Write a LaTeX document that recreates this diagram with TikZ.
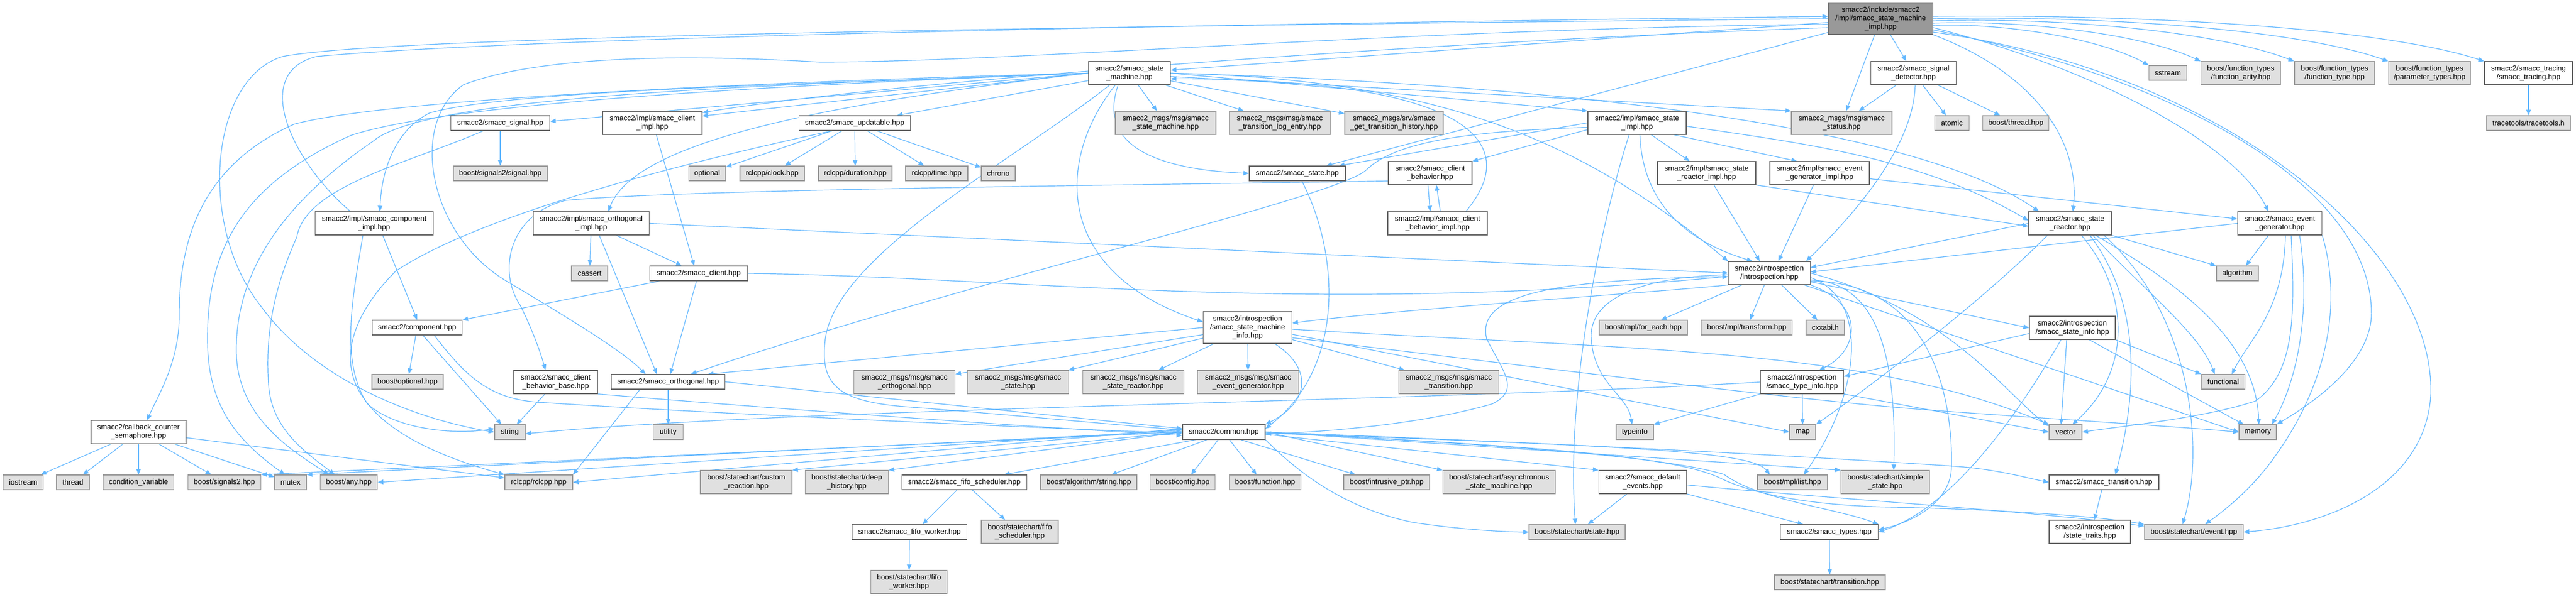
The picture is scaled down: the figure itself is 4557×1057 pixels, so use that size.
\documentclass[tikz,border=0pt]{standalone}
\usepackage{fontspec}
\setmainfont{Liberation Sans}
\usetikzlibrary{arrows.meta}
\definecolor{eb}{HTML}{63B8FF}
\definecolor{bord}{HTML}{666666}
\definecolor{gbord}{HTML}{999999}
\definecolor{gfill}{HTML}{E0E0E0}
\definecolor{tfill}{HTML}{999999}
\pgfdeclarelayer{bg}
\pgfsetlayers{bg,main}
\begin{document}
\begin{tikzpicture}[x=1pt,y=1pt,
  nb/.style={draw, line width=1.2pt, align=center, inner sep=1pt, font={\fontsize{13}{15}\selectfont}},
  wb/.style={nb, fill=white, draw=bord},
  gb/.style={nb, fill=gfill, draw=gbord},
  tb/.style={nb, fill=tfill, draw=bord},
  ha/.style={minimum height=26pt},
  hb/.style={minimum height=41pt},
  hc/.style={minimum height=56pt},
  edg/.style={draw=eb, line width=1.2pt, -{Triangle[length=10pt,width=8pt]}},
]
\useasboundingbox (0,0) rectangle (4557,-1057);
% ---------- nodes ----------
\node[tb,hc,minimum width=185pt] (SMI) at (3327,-33) {smacc2/include/smacc2\\/impl/smacc\_state\_machine\\\_impl.hpp};
\node[wb,hb,minimum width=145pt] (sm) at (1998,-129.5) {smacc2/smacc\_state\\\_machine.hpp};
\node[wb,hb,minimum width=151pt] (sigdet) at (3385,-129.5) {smacc2/smacc\_signal\\\_detector.hpp};
\node[gb,ha,minimum width=67pt] (sstream) at (3835,-129) {sstream};
\node[gb,hb,minimum width=141pt] (farity) at (3964,-129.5) {boost/function\_types\\/function\_arity.hpp};
\node[gb,hb,minimum width=142pt] (ftype) at (4130,-129.5) {boost/function\_types\\/function\_type.hpp};
\node[gb,hb,minimum width=145pt] (ptypes) at (4298,-129.5) {boost/function\_types\\/parameter\_types.hpp};
\node[wb,hb,minimum width=156pt] (tracing) at (4473,-129.5) {smacc2/smacc\_tracing\\/smacc\_tracing.hpp};

\node[wb,ha,minimum width=175pt] (signal) at (885,-218) {smacc2/smacc\_signal.hpp};
\node[wb,hb,minimum width=176pt] (clientimpl) at (1154,-217.5) {smacc2/impl/smacc\_client\\\_impl.hpp};
\node[wb,ha,minimum width=197pt] (updatable) at (1512,-218) {smacc2/smacc\_updatable.hpp};
\node[gb,hb,minimum width=178pt] (msgsm) at (2062,-217.5) {smacc2\_msgs/msg/smacc\\\_state\_machine.hpp};
\node[gb,hb,minimum width=179pt] (msgtle) at (2264,-217.5) {smacc2\_msgs/msg/smacc\\\_transition\_log\_entry.hpp};
\node[gb,hb,minimum width=174pt] (srvgth) at (2466,-217.5) {smacc2\_msgs/srv/smacc\\\_get\_transition\_history.hpp};
\node[wb,hb,minimum width=174pt] (stateimpl) at (2896,-217.5) {smacc2/impl/smacc\_state\\\_impl.hpp};
\node[gb,hb,minimum width=178pt] (msgstatus) at (3258,-217.5) {smacc2\_msgs/msg/smacc\\\_status.hpp};
\node[gb,ha,minimum width=61pt] (atomic) at (3453,-218) {atomic};
\node[gb,ha,minimum width=117pt] (bthread) at (3566,-218) {boost/thread.hpp};
\node[gb,ha,minimum width=149pt] (tracetools) at (4473,-218) {tracetools/tracetools.h};

\node[gb,ha,minimum width=166pt] (sigsignal) at (885,-307) {boost/signals2/signal.hpp};
\node[gb,ha,minimum width=65pt] (optional) at (1251,-307) {optional};
\node[gb,ha,minimum width=114pt] (clock) at (1366,-307) {rclcpp/clock.hpp};
\node[gb,ha,minimum width=130pt] (duration) at (1513,-307) {rclcpp/duration.hpp};
\node[gb,ha,minimum width=110pt] (rtime) at (1657,-307) {rclcpp/time.hpp};
\node[gb,ha,minimum width=60pt] (chrono) at (1766,-307) {chrono};
\node[wb,ha,minimum width=170pt] (state) at (2295,-307) {smacc2/smacc\_state.hpp};
\node[wb,hb,minimum width=148pt] (cb) at (2530,-306.5) {smacc2/smacc\_client\\\_behavior.hpp};
\node[wb,hb,minimum width=174pt] (srimpl) at (3019,-306.5) {smacc2/impl/smacc\_state\\\_reactor\_impl.hpp};
\node[wb,hb,minimum width=176pt] (egimpl) at (3219,-306.5) {smacc2/impl/smacc\_event\\\_generator\_impl.hpp};

\node[wb,hb,minimum width=209pt] (compimpl) at (662,-395.5) {smacc2/impl/smacc\_component\\\_impl.hpp};
\node[wb,hb,minimum width=205pt] (orthimpl) at (1046,-395.5) {smacc2/impl/smacc\_orthogonal\\\_impl.hpp};
\node[wb,hb,minimum width=176pt] (cbimpl) at (2543,-395.5) {smacc2/impl/smacc\_client\\\_behavior\_impl.hpp};
\node[wb,hb,minimum width=146pt] (sr) at (3662,-395.5) {smacc2/smacc\_state\\\_reactor.hpp};
\node[wb,hb,minimum width=149pt] (eg) at (4033,-395.5) {smacc2/smacc\_event\\\_generator.hpp};

\node[gb,ha,minimum width=64pt] (cassert) at (1043,-484) {cassert};
\node[wb,ha,minimum width=173pt] (client) at (1236,-484) {smacc2/smacc\_client.hpp};
\node[wb,hb,minimum width=145pt] (intro) at (3130,-483.5) {smacc2/introspection\\/introspection.hpp};
\node[gb,ha,minimum width=74pt] (algorithm) at (3958,-484) {algorithm};

\node[wb,ha,minimum width=159pt] (comp) at (738,-580) {smacc2/component.hpp};
\node[wb,hc,minimum width=157pt] (smiinfo) at (2207,-580) {smacc2/introspection\\/smacc\_state\_machine\\\_info.hpp};
\node[gb,ha,minimum width=156pt] (foreach) at (2907,-580) {boost/mpl/for\_each.hpp};
\node[gb,ha,minimum width=161pt] (transform) at (3090,-580) {boost/mpl/transform.hpp};
\node[gb,ha,minimum width=68pt] (cxxabi) at (3229,-580) {cxxabi.h};
\node[wb,hb,minimum width=152pt] (stinfo) at (3666,-580.5) {smacc2/introspection\\/smacc\_state\_info.hpp};

\node[gb,ha,minimum width=126pt] (boptional) at (721,-676) {boost/optional.hpp};
\node[wb,hb,minimum width=149pt] (cbbase) at (983,-676.5) {smacc2/smacc\_client\\\_behavior\_base.hpp};
\node[wb,ha,minimum width=201pt] (orth) at (1182,-676) {smacc2/smacc\_orthogonal.hpp};
\node[gb,hb,minimum width=179pt] (msgorth) at (1600,-676.5) {smacc2\_msgs/msg/smacc\\\_orthogonal.hpp};
\node[gb,hb,minimum width=179pt] (msgstate) at (1801,-676.5) {smacc2\_msgs/msg/smacc\\\_state.hpp};
\node[gb,hb,minimum width=179pt] (msgsr) at (2005,-676.5) {smacc2\_msgs/msg/smacc\\\_state\_reactor.hpp};
\node[gb,hb,minimum width=179pt] (msgeg) at (2208,-676.5) {smacc2\_msgs/msg/smacc\\\_event\_generator.hpp};
\node[gb,hb,minimum width=177pt] (msgtr) at (2563,-676.5) {smacc2\_msgs/msg/smacc\\\_transition.hpp};
\node[wb,hb,minimum width=147pt] (typeinfoh) at (3188,-676.5) {smacc2/introspection\\/smacc\_type\_info.hpp};
\node[gb,ha,minimum width=77pt] (functional) at (3933,-676) {functional};

\node[wb,hb,minimum width=168pt] (sema) at (245,-765) {smacc2/callback\_counter\\\_semaphore.hpp};
\node[gb,ha,minimum width=54pt] (string) at (902,-765) {string};
\node[gb,ha,minimum width=53pt] (utility) at (1182,-765) {utility};
\node[wb,ha,minimum width=146pt] (common) at (2165,-765) {smacc2/common.hpp};
\node[gb,ha,minimum width=66pt] (typeinfo) at (2892,-765) {typeinfo};
\node[gb,ha,minimum width=46pt] (map) at (3189,-765) {map};
\node[gb,ha,minimum width=58pt] (vector) at (3654,-765) {vector};
\node[gb,ha,minimum width=66pt] (memory) at (3994,-765) {memory};

\node[gb,ha,minimum width=71pt] (iostream) at (41,-854) {iostream};
\node[gb,ha,minimum width=58pt] (thread) at (129,-854) {thread};
\node[gb,ha,minimum width=125pt] (condvar) at (245,-854) {condition\_variable};
\node[gb,ha,minimum width=129pt] (signals2) at (397,-854) {boost/signals2.hpp};
\node[gb,ha,minimum width=56pt] (mutex) at (514,-854) {mutex};
\node[gb,ha,minimum width=101pt] (bany) at (617,-854) {boost/any.hpp};
\node[gb,ha,minimum width=120pt] (rclcpp) at (953,-854) {rclcpp/rclcpp.hpp};
\node[gb,hb,minimum width=162pt] (custreact) at (1320,-853.5) {boost/statechart/custom\\\_reaction.hpp};
\node[gb,hb,minimum width=147pt] (deephist) at (1498,-853.5) {boost/statechart/deep\\\_history.hpp};
\node[wb,ha,minimum width=221pt] (fifosched) at (1706,-854) {smacc2/smacc\_fifo\_scheduler.hpp};
\node[gb,ha,minimum width=170pt] (algstring) at (1926,-854) {boost/algorithm/string.hpp};
\node[gb,ha,minimum width=115pt] (config) at (2092,-854) {boost/config.hpp};
\node[gb,ha,minimum width=127pt] (function) at (2238,-854) {boost/function.hpp};
\node[gb,ha,minimum width=152pt] (intrusive) at (2453,-854) {boost/intrusive\_ptr.hpp};
\node[gb,hb,minimum width=199pt] (async) at (2652,-853.5) {boost/statechart/asynchronous\\\_state\_machine.hpp};
\node[wb,hb,minimum width=155pt] (defevents) at (2906,-853.5) {smacc2/smacc\_default\\\_events.hpp};
\node[gb,ha,minimum width=124pt] (mpllist) at (3171,-854) {boost/mpl/list.hpp};
\node[gb,hb,minimum width=157pt] (simplestate) at (3335,-853.5) {boost/statechart/simple\\\_state.hpp};
\node[wb,ha,minimum width=194pt] (transition) at (3722,-854) {smacc2/smacc\_transition.hpp};

\node[wb,ha,minimum width=203pt] (fifoworker) at (1609,-942) {smacc2/smacc\_fifo\_worker.hpp};
\node[gb,hb,minimum width=136pt] (bfifosched) at (1804,-941.5) {boost/statechart/fifo\\\_scheduler.hpp};
\node[gb,ha,minimum width=170pt] (bstate) at (2790,-942) {boost/statechart/state.hpp};
\node[wb,ha,minimum width=173pt] (types) at (3236,-942) {smacc2/smacc\_types.hpp};
\node[wb,hb,minimum width=144pt] (straits) at (3697,-941.5) {smacc2/introspection\\/state\_traits.hpp};
\node[gb,ha,minimum width=175pt] (event) at (3881,-942) {boost/statechart/event.hpp};

\node[gb,hb,minimum width=135pt] (bfifoworker) at (1608,-1030.5) {boost/statechart/fifo\\\_worker.hpp};
\node[gb,ha,minimum width=196pt] (btransition) at (3237,-1031) {boost/statechart/transition.hpp};

% ---------- edges ----------
\begin{pgfonlayer}{bg}
\fill[white] (0,0) rectangle (4557,-1057);
% SMI
\draw[edg] (SMI) -- (sm);
\draw[edg] (SMI) -- (sigdet);
\draw[edg] (SMI) -- (msgstatus);
\draw[edg] ([yshift=-12pt]SMI.east) .. controls (3550,-40) and (3720,-70) .. (sstream.north west);
\draw[edg] ([yshift=-8pt]SMI.east) .. controls (3580,-35) and (3790,-60) .. (farity.north west);
\draw[edg] ([yshift=-4pt]SMI.east) .. controls (3640,-30) and (3920,-55) .. (ftype.north west);
\draw[edg] (SMI.east) .. controls (3700,-27) and (4060,-50) .. (ptypes.north west);
\draw[edg] ([yshift=4pt]SMI.east) .. controls (3750,-25) and (4200,-45) .. (tracing.north west);
\draw[edg] (SMI.south east) .. controls (3600,-130) and (3680,-250) .. ([xshift=5pt]sr.north);
\draw[edg] ([yshift=-16pt]SMI.east) .. controls (3700,-120) and (3950,-250) .. ([xshift=-20pt]eg.north);
\draw[edg] (SMI) -- (state);
\draw[edg] ([yshift=-20pt]SMI.east) .. controls (3900,-150) and (4200,-350) .. (4195,-560) .. controls (4190,-650) and (4080,-720) .. (memory.north east);
\draw[edg] ([yshift=-24pt]SMI.east) .. controls (3950,-130) and (4310,-450) .. (4300,-700) .. controls (4290,-860) and (4120,-930) .. (event.east);
\draw[edg] (SMI.west) .. controls (2000,-46) and (700,-62) .. (500,-100) .. controls (370,-140) and (350,-400) .. (460,-540) .. controls (560,-680) and (750,-745) .. (string.west);
\draw[edg] ([yshift=-10pt]SMI.west) .. controls (2500,-50) and (1800,-110) .. (1450,-110) .. controls (1200,-95) and (950,-100) .. (820,-150) .. controls (720,-220) and (760,-420) .. (900,-500) .. controls (1000,-560) and (1100,-620) .. ([xshift=-40pt]orth.north);
\draw[edg] ([yshift=-16pt]SMI.west) .. controls (2600,-70) and (1600,-140) .. ([yshift=-3pt]clientimpl.north east);
\draw[edg] ([xshift=-42pt]compimpl.north) .. controls (520,-290) and (440,-130) .. (560,-100) .. controls (1000,-60) and (2500,-38) .. ([yshift=4pt]SMI.west);
% tracing
\draw[edg] (tracing) -- (tracetools);
% sm
\draw[edg] (sm) -- (msgsm);
\draw[edg] (sm) -- (msgtle);
\draw[edg] (sm) -- (srvgth);
\draw[edg] ([xshift=-20pt]sm.south) .. controls (1940,-260) and (2050,-300) .. (state.west);
\draw[edg] (sm) -- (updatable);
\draw[edg] (sm.west) -- ([yshift=-9pt]clientimpl.north east);
\draw[edg] (sm.west) -- ([yshift=3pt]signal.east);
\draw[edg] (sm.west) .. controls (1400,-150) and (900,-160) .. (760,-200) .. controls (700,-230) and (675,-300) .. ([xshift=10pt]compimpl.north);
\draw[edg] (sm.west) .. controls (1400,-190) and (1120,-260) .. ([xshift=30pt]orthimpl.north);
\draw[edg] (sm.west) .. controls (1500,-140) and (700,-170) .. (520,-220) .. controls (340,-300) and (317,-450) .. (317,-560) .. controls (317,-640) and (280,-700) .. ([xshift=15pt]sema.north);
\draw[edg] (sm.west) .. controls (1400,-150) and (800,-180) .. (620,-240) .. controls (420,-330) and (367,-450) .. (367,-600) .. controls (367,-720) and (420,-780) .. ([xshift=-10pt]mutex.north);
\draw[edg] (sm.west) .. controls (1400,-150) and (760,-165) .. (660,-250) .. controls (500,-360) and (418,-480) .. (418,-620) .. controls (418,-740) and (520,-800) .. ([xshift=-35pt]bany.north);
\draw[edg] ([xshift=-25pt]sm.south) .. controls (1870,-280) and (1860,-480) .. ([yshift=10pt]smiinfo.west);
\draw[edg] ([xshift=-35pt]sm.south) .. controls (1800,-280) and (1480,-450) .. (1460,-600) .. controls (1450,-680) and (1480,-710) .. (1600,-720) .. controls (1800,-735) and (2000,-755) .. ([yshift=4pt]common.west);
\draw[edg] (sm.east) .. controls (2550,-140) and (2800,-250) .. (intro.north west);
\draw[edg] (sm.east) -- (stateimpl.north west);
\draw[edg] ([yshift=-6pt]sm.east) -- (msgstatus.north west);
\draw[edg] (sm.east) .. controls (2800,-150) and (3400,-230) .. ([xshift=-55pt]sr.north);
\draw[edg] ([xshift=50pt]cbimpl.north) .. controls (2690,-260) and (2620,-140) .. ([yshift=-10pt]sm.east);
% signal / updatable
\draw[edg] (signal) -- (sigsignal);
\draw[edg] ([xshift=-30pt]signal.south) .. controls (720,-290) and (540,-330) .. (525,-420) .. controls (480,-520) and (470,-600) .. (475,-680) .. controls (480,-760) and (540,-800) .. ([xshift=-25pt]bany.north);
\draw[edg] (updatable) -- (optional);
\draw[edg] (updatable) -- (clock);
\draw[edg] (updatable) -- (duration);
\draw[edg] (updatable) -- (rtime);
\draw[edg] (updatable) -- (chrono);
\draw[edg] ([xshift=-40pt]updatable.south) .. controls (1200,-290) and (850,-380) .. (700,-480) .. controls (620,-560) and (600,-640) .. (640,-700) .. controls (690,-780) and (820,-820) .. (rclcpp.north west);
% impl files
\draw[edg] ([xshift=7pt]clientimpl.south) -- ([xshift=-8pt]client.north);
\draw[edg] ([xshift=15pt]compimpl.south) -- (comp.north);
\draw[edg] ([xshift=-20pt]compimpl.south) .. controls (625,-520) and (600,-640) .. (650,-715) .. controls (700,-760) and (800,-770) .. ([yshift=6pt]string.west);
\draw[edg] (orthimpl) -- (cassert);
\draw[edg] ([xshift=44pt]orthimpl.south) -- ([xshift=-30pt]client.north);
\draw[edg] ([xshift=14pt]orthimpl.south) -- ([xshift=-20pt]orth.north);
\draw[edg] (orthimpl.east) -- (intro.west);
% client
\draw[edg] (client) -- (orth);
\draw[edg] (client.east) .. controls (1800,-490) and (2300,-560) .. ([yshift=-6pt]intro.west);
\draw[edg] (client) -- (comp.north east);
% comp, cbbase, orth
\draw[edg] (comp) -- (boptional);
\draw[edg] ([xshift=10pt]comp.south) -- ([xshift=-15pt]string.north);
\draw[edg] ([xshift=30pt]comp.south) .. controls (820,-660) and (860,-705) .. (950,-712) .. controls (1300,-735) and (1900,-760) .. ([yshift=-2pt]common.west);
\draw[edg] ([xshift=-19pt]cbbase.south) -- ([xshift=12pt]string.north);
\draw[edg] (cbbase.south east) .. controls (1300,-718) and (1800,-755) .. ([yshift=-6pt]common.west);
\draw[edg] (orth) -- (utility);
\draw[edg] (orth.east) -- ([yshift=6pt]common.west);
\draw[edg] ([xshift=-50pt]orth.south) -- (rclcpp.north east);
% semaphore
\draw[edg] (sema) -- (iostream);
\draw[edg] (sema) -- (thread);
\draw[edg] (sema) -- (condvar);
\draw[edg] (sema) -- (signals2);
\draw[edg] (sema) -- (mutex);
\draw[edg] ([yshift=-10pt]sema.east) -- ([yshift=8pt]rclcpp.west);
% common
\draw[edg] (common.west) -- (custreact.north east);
\draw[edg] (common.west) -- (deephist.north east);
\draw[edg] ([xshift=-50pt]common.south) -- ([xshift=70pt]fifosched.north);
\draw[edg] ([xshift=-30pt]common.south) -- ([xshift=40pt]algstring.north);
\draw[edg] ([xshift=-10pt]common.south) -- ([xshift=15pt]config.north);
\draw[edg] ([xshift=10pt]common.south) -- ([xshift=-15pt]function.north);
\draw[edg] ([xshift=30pt]common.south) -- ([xshift=-55pt]intrusive.north);
\draw[edg] (common.east) -- (async.north west);
\draw[edg] ([yshift=-4pt]common.east) -- (defevents.north west);
\draw[edg] ([yshift=-2pt]common.east) .. controls (2900,-790) and (3100,-800) .. ([xshift=-40pt]mpllist.north);
\draw[edg] (common.east) -- (simplestate.north west);
\draw[edg] (common.south east) .. controls (2300,-840) and (2380,-900) .. (2500,-925) .. controls (2600,-940) and (2680,-942) .. (bstate.west);
\draw[edg] (common.east) .. controls (2700,-790) and (2950,-810) .. (3050,-840) .. controls (3110,-885) and (3250,-900) .. (types.north east);
\draw[edg] (common.east) .. controls (2700,-790) and (2950,-805) .. (3040,-845) .. controls (3100,-875) and (3200,-895) .. (3350,-898) .. controls (3550,-902) and (3720,-915) .. (event.north west);
\draw[edg] (common.east) .. controls (2900,-790) and (3300,-815) .. (3450,-825) .. controls (3530,-830) and (3580,-845) .. (transition.west);
\draw[edg] ([yshift=6pt]common.west) -- (rclcpp.east);
\draw[edg] ([yshift=4pt]common.west) -- (bany.east);
\draw[edg] ([yshift=2pt]common.west) -- (mutex.north east);
\draw[edg] (common.west) -- (signals2.north east);
% default events, fifo, types, transition
\draw[edg] ([xshift=-28pt]defevents.south) -- ([xshift=19pt]bstate.north);
\draw[edg] (defevents.south east) -- ([xshift=-46pt]types.north);
\draw[edg] ([yshift=-5pt]defevents.east) .. controls (3200,-880) and (3600,-905) .. ([yshift=-3pt]event.north west);
\draw[edg] ([xshift=-13pt]fifosched.south) -- ([xshift=23pt]fifoworker.north);
\draw[edg] ([xshift=14pt]fifosched.south) -- ([xshift=-26pt]bfifosched.north);
\draw[edg] (fifoworker) -- (bfifoworker);
\draw[edg] (types) -- (btransition);
\draw[edg] ([xshift=-4pt]transition.south) -- ([xshift=8pt]straits.north);
% state machine info
\draw[edg] (smiinfo) -- (msgorth);
\draw[edg] (smiinfo) -- (msgstate);
\draw[edg] (smiinfo) -- (msgsr);
\draw[edg] (smiinfo) -- (msgeg);
\draw[edg] (smiinfo) -- (msgtr);
\draw[edg] ([xshift=48pt]smiinfo.south) .. controls (2320,-650) and (2320,-710) .. (common.north east);
\draw[edg] (smiinfo.west) -- ([xshift=70pt]orth.north);
\draw[edg] ([yshift=-12pt]smiinfo.east) -- (map.west);
\draw[edg] ([yshift=-3pt]smiinfo.east) .. controls (2900,-620) and (3300,-615) .. (vector.north west);
\draw[edg] ([yshift=-18pt]smiinfo.east) .. controls (2800,-660) and (3200,-710) .. (3400,-725) .. controls (3600,-740) and (3850,-755) .. (memory.west);
% state info / type info
\draw[edg] ([yshift=-10pt]stinfo.west) -- ([yshift=10pt]typeinfoh.east);
\draw[edg] ([xshift=-20pt]stinfo.south) .. controls (3560,-750) and (3450,-900) .. (types.east);
\draw[edg] ([xshift=-10pt]stinfo.south) -- ([xshift=-8pt]vector.north);
\draw[edg] ([xshift=30pt]stinfo.south) -- ([xshift=-25pt]memory.north);
\draw[edg] (stinfo.south east) -- (functional.north west);
\draw[edg] (typeinfoh.south west) -- (typeinfo.north east);
\draw[edg] (typeinfoh) -- (map);
\draw[edg] (typeinfoh.south east) -- (vector.west);
\draw[edg] (typeinfoh.west) .. controls (2500,-712) and (1400,-722) .. ([yshift=-3pt]string.east);
% introspection
\draw[edg] (intro) -- (foreach);
\draw[edg] (intro) -- (transform);
\draw[edg] (intro) -- (cxxabi);
\draw[edg] (intro.south west) .. controls (2900,-520) and (2500,-545) .. ([yshift=8pt]smiinfo.east);
\draw[edg] (intro) -- (stinfo.west);
\draw[edg] (intro.south east) .. controls (3300,-540) and (3290,-620) .. ([xshift=30pt]typeinfoh.north);
\draw[edg] ([yshift=-6pt]intro.west) .. controls (2750,-495) and (2610,-520) .. (2630,-600) .. controls (2660,-660) and (2690,-690) .. (2640,-715) .. controls (2520,-750) and (2350,-765) .. ([yshift=-3pt]common.east);
\draw[edg] ([yshift=-3pt]intro.west) .. controls (2900,-490) and (2810,-530) .. (2815,-600) .. controls (2820,-680) and (2880,-700) .. ([xshift=-5pt]typeinfo.north);
\draw[edg] ([yshift=-12pt]intro.east) .. controls (3330,-500) and (3355,-650) .. ([xshift=15pt]simplestate.north);
\draw[edg] ([yshift=-14pt]intro.east) .. controls (3440,-500) and (3455,-750) .. (3452,-830) .. controls (3450,-880) and (3400,-920) .. ([yshift=4pt]types.east);
\draw[edg] ([yshift=-8pt]intro.east) .. controls (3310,-530) and (3290,-700) .. ([xshift=20pt]mpllist.north);
\draw[edg] (intro.east) .. controls (3450,-550) and (3550,-700) .. ([yshift=-3pt]vector.north west);
\draw[edg] (intro) -- (memory.west);
% state impl
\draw[edg] (stateimpl.west) -- ([xshift=-12pt]state.north east);
\draw[edg] ([yshift=-12pt]stateimpl.west) -- (cb.north east);
\draw[edg] ([yshift=-8pt]stateimpl.west) .. controls (2600,-232) and (2470,-250) .. (2418,-300) .. controls (2370,-350) and (1700,-500) .. ([xshift=40pt]orth.north);
\draw[edg] ([xshift=-14pt]stateimpl.south) .. controls (2830,-400) and (2770,-700) .. ([xshift=-3pt]bstate.north);
\draw[edg] ([xshift=5pt]stateimpl.south) .. controls (2905,-340) and (2960,-420) .. ([xshift=-30pt]intro.north);
\draw[edg] ([xshift=25pt]stateimpl.south) -- ([xshift=-30pt]srimpl.north);
\draw[edg] ([xshift=65pt]stateimpl.south) -- ([xshift=-40pt]egimpl.north);
\draw[edg] ([yshift=-6pt]stateimpl.east) .. controls (3200,-255) and (3400,-280) .. ([yshift=5pt]sr.west);
% client behavior
\draw[edg] ([xshift=-4pt]cb.south) -- ([xshift=-13pt]cbimpl.north);
\draw[edg] ([xshift=5pt]cbimpl.north) -- ([xshift=11pt]cb.south);
\draw[edg] ([yshift=-14pt]cb.west) .. controls (2000,-328) and (1200,-335) .. (1000,-355) .. controls (900,-380) and (880,-480) .. (920,-540) .. controls (940,-580) and (955,-620) .. ([xshift=-18pt]cbbase.north);
% reactor / generator impl
\draw[edg] ([xshift=13pt]srimpl.south) -- ([xshift=-17pt]intro.north);
\draw[edg] (srimpl.south east) -- ([yshift=-5pt]sr.west);
\draw[edg] ([xshift=-11pt]egimpl.south) -- ([xshift=16pt]intro.north);
\draw[edg] ([yshift=-10pt]egimpl.east) -- ([yshift=8pt]eg.west);
% signal detector
\draw[edg] (sigdet) -- (msgstatus);
\draw[edg] (sigdet) -- (atomic);
\draw[edg] (sigdet) -- (bthread);
\draw[edg] ([xshift=3pt]sigdet.south) .. controls (3385,-260) and (3280,-380) .. ([xshift=-8pt]intro.north east);
% state
\draw[edg] ([xshift=8pt]state.south) .. controls (2370,-450) and (2380,-650) .. ([yshift=6pt]common.east);
% state reactor
\draw[edg] (sr.west) -- ([yshift=10pt]intro.east);
\draw[edg] (sr.south east) -- (algorithm.north west);
\draw[edg] ([xshift=40pt]sr.south) .. controls (3800,-520) and (3890,-590) .. ([xshift=-15pt]functional.north);
\draw[edg] ([xshift=20pt]sr.south) .. controls (3770,-520) and (3770,-660) .. ([xshift=12pt]vector.north);
\draw[edg] ([xshift=35pt]sr.south) .. controls (3790,-540) and (3780,-700) .. ([xshift=20pt]transition.north);
\draw[edg] ([xshift=45pt]sr.south) .. controls (3850,-500) and (3990,-600) .. ([xshift=2pt]memory.north);
\draw[edg] ([xshift=60pt]sr.south) .. controls (3880,-560) and (3900,-800) .. ([xshift=-20pt]event.north);
\draw[edg] ([xshift=-40pt]sr.south) .. controls (3500,-540) and (3300,-690) .. (map.north east);
% event generator
\draw[edg] (eg.west) -- ([yshift=2pt]intro.east);
\draw[edg] ([xshift=-20pt]eg.south) -- ([xshift=15pt]algorithm.north);
\draw[edg] ([xshift=10pt]eg.south) .. controls (4040,-550) and (3980,-600) .. ([xshift=15pt]functional.north);
\draw[edg] ([xshift=20pt]eg.south) .. controls (4060,-560) and (4060,-660) .. (3990,-710) .. controls (3900,-740) and (3750,-755) .. (vector.east);
\draw[edg] ([xshift=35pt]eg.south) .. controls (4090,-560) and (4060,-680) .. ([xshift=25pt]memory.north);
\draw[edg] (eg.south east) .. controls (4150,-560) and (4100,-700) .. (4030,-800) .. controls (3990,-860) and (3940,-900) .. ([xshift=20pt]event.north);
\end{pgfonlayer}
\end{tikzpicture}
\end{document}
